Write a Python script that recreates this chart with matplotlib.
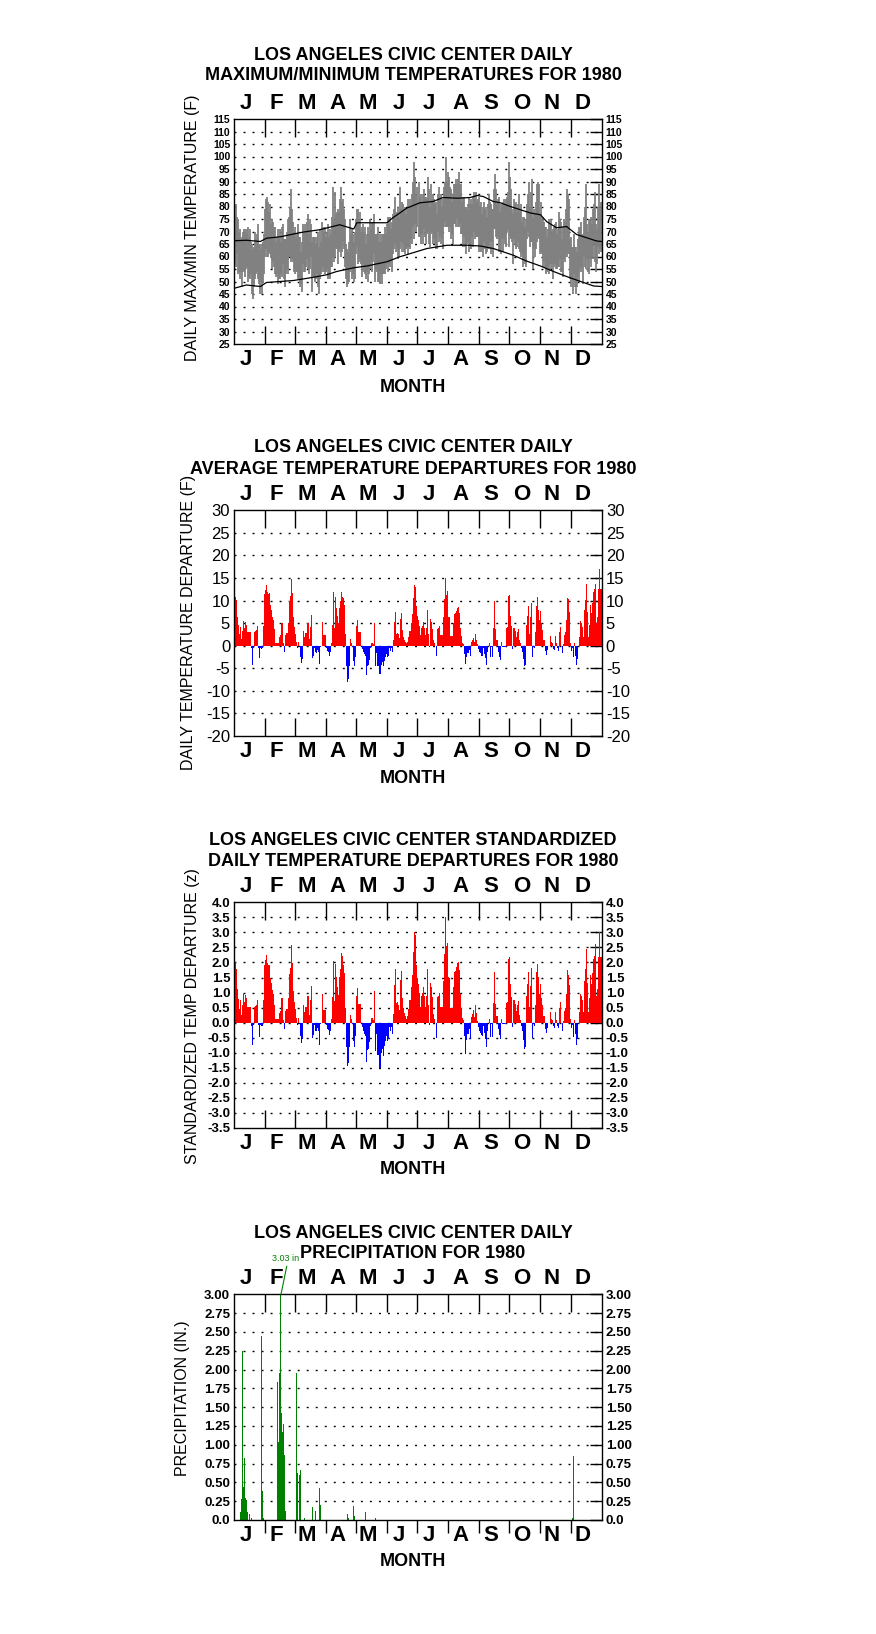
import numpy as np
import matplotlib
matplotlib.use("Agg")
import matplotlib.pyplot as plt

plt.rcParams['font.family'] = ['Liberation Sans', 'DejaVu Sans']

months = ['J', 'F', 'M', 'A', 'M', 'J', 'J', 'A', 'S', 'O', 'N', 'D']
month_len = [31, 29, 31, 30, 31, 30, 31, 31, 30, 31, 30, 31]

# daily max / min temperatures (F), 1980
tmax = [77, 81, 76, 75, 70, 71, 67, 68, 70, 71, 71, 69, 71, 72, 68, 71, 66, 65, 63, 64,
        70, 67, 69, 73, 65, 65, 63, 65, 66, 69, 79, 83, 84, 82, 78, 81, 73, 75, 74, 72,
        72, 66, 68, 71, 67, 71, 66, 72, 73, 67, 67, 67, 70, 75, 76, 80, 87, 79, 74, 70,
        72, 68, 69, 73, 68, 68, 62, 66, 73, 70, 73, 70, 74, 77, 69, 75, 73, 66, 68, 68,
        68, 65, 68, 70, 64, 71, 66, 74, 72, 70, 72, 68, 70, 73, 68, 71, 69, 76, 88, 74,
        86, 77, 78, 79, 78, 83, 88, 82, 83, 79, 75, 65, 63, 62, 66, 75, 69, 71, 69, 66,
        70, 75, 79, 79, 75, 78, 70, 72, 73, 70, 72, 65, 69, 72, 69, 75, 71, 74, 74, 77,
        69, 69, 69, 72, 66, 69, 66, 69, 69, 69, 72, 69, 73, 76, 73, 76, 71, 74, 77, 79,
        84, 76, 78, 80, 76, 88, 79, 82, 81, 78, 80, 77, 79, 83, 80, 83, 80, 85, 90, 98,
        92, 85, 88, 90, 84, 85, 82, 85, 87, 84, 84, 83, 92, 87, 80, 89, 83, 85, 83, 81,
        82, 77, 85, 88, 84, 85, 80, 83, 88, 90, 100, 90, 94, 92, 88, 87, 82, 85, 89, 89,
        91, 89, 91, 94, 89, 89, 82, 84, 84, 80, 80, 79, 81, 84, 81, 83, 81, 84, 86, 83,
        86, 82, 83, 84, 80, 82, 77, 80, 82, 79, 80, 76, 81, 85, 82, 81, 79, 79, 87, 93,
        87, 81, 83, 84, 78, 81, 80, 82, 83, 81, 83, 84, 86, 98, 92, 87, 79, 77, 83, 81,
        82, 78, 81, 85, 78, 81, 74, 76, 76, 72, 75, 81, 85, 90, 80, 86, 91, 75, 79, 77,
        82, 89, 90, 89, 77, 82, 74, 76, 74, 72, 72, 68, 71, 75, 73, 75, 70, 71, 72, 73,
        74, 69, 71, 78, 75, 74, 67, 72, 75, 74, 79, 87, 85, 83, 67, 68, 64, 64, 69, 64,
        64, 62, 67, 72, 72, 74, 68, 69, 76, 80, 89, 73, 69, 75, 75, 76, 73, 79, 81, 86,
        73, 71, 80, 89, 79, 82]
tmin = [58, 56, 61, 53, 54, 51, 54, 48, 54, 55, 52, 55, 56, 50, 52, 51, 53, 45, 43, 48,
        51, 53, 54, 51, 49, 45, 50, 45, 50, 53, 60, 63, 60, 60, 62, 61, 60, 55, 58, 56,
        53, 52, 53, 49, 51, 51, 53, 52, 57, 51, 48, 53, 55, 53, 60, 60, 58, 59, 58, 54,
        53, 54, 54, 51, 52, 48, 49, 46, 57, 54, 54, 56, 59, 55, 53, 55, 60, 46, 52, 52,
        50, 51, 53, 48, 45, 51, 53, 54, 56, 54, 53, 54, 55, 51, 52, 51, 56, 56, 60, 58,
        60, 63, 63, 57, 62, 63, 60, 62, 66, 63, 56, 51, 48, 49, 50, 54, 56, 51, 53, 50,
        51, 61, 64, 57, 59, 58, 57, 52, 57, 54, 53, 51, 54, 50, 53, 55, 58, 54, 58, 61,
        50, 55, 54, 50, 50, 49, 53, 49, 53, 53, 53, 55, 58, 54, 57, 56, 58, 54, 61, 63,
        65, 62, 63, 59, 60, 63, 66, 62, 65, 62, 61, 63, 64, 61, 64, 63, 67, 65, 72, 67,
        73, 70, 72, 68, 68, 65, 69, 65, 71, 68, 65, 69, 70, 65, 64, 69, 70, 65, 67, 65,
        63, 63, 70, 66, 68, 65, 67, 63, 72, 74, 72, 72, 72, 70, 72, 67, 69, 65, 73, 73,
        72, 75, 72, 72, 73, 69, 69, 64, 68, 64, 61, 65, 66, 62, 65, 63, 68, 64, 70, 67,
        68, 68, 68, 62, 64, 62, 64, 60, 66, 63, 61, 62, 65, 63, 66, 61, 66, 60, 71, 71,
        68, 67, 68, 62, 62, 61, 67, 62, 67, 65, 64, 70, 71, 64, 68, 67, 66, 57, 67, 65,
        63, 64, 66, 63, 62, 60, 61, 56, 60, 57, 56, 67, 70, 68, 64, 66, 66, 55, 63, 60,
        63, 66, 68, 67, 61, 62, 61, 56, 58, 56, 53, 54, 56, 53, 57, 55, 57, 51, 56, 57,
        55, 55, 56, 56, 59, 54, 54, 52, 59, 58, 60, 60, 61, 61, 51, 48, 51, 45, 53, 48,
        45, 48, 52, 50, 56, 54, 55, 49, 60, 56, 55, 59, 54, 53, 59, 56, 60, 59, 65, 58,
        54, 57, 64, 61, 63, 62]

# normal max / min curves (F), read at these days of year
norm_max_day = [0, 12, 26, 32, 46, 59, 69, 85, 105, 119, 122, 132, 152, 158, 172, 185,
                198, 208, 222, 235, 242, 248, 258, 265, 275, 285, 295, 305, 311, 321,
                331, 341, 351, 361, 366]
norm_max = [66.3, 66.5, 66.0, 67.3, 67.9, 69.0, 69.8, 70.7, 72.7, 71.0, 73.5, 73.5,
            73.5, 75.5, 79.4, 81.5, 82.0, 83.6, 83.3, 83.6, 84.4, 84.0, 82.0, 81.5,
            80.0, 78.7, 77.4, 76.7, 74.0, 71.5, 72.0, 68.8, 67.5, 66.2, 66.0]
norm_min_day = [0, 12, 26, 32, 59, 79, 92, 102, 119, 132, 152, 165, 178, 192, 212, 232,
                245, 258, 278, 291, 305, 318, 331, 345, 358, 366]
norm_min = [47.3, 48.6, 48.0, 49.6, 50.4, 51.7, 52.7, 54.0, 55.5, 56.2, 57.9, 59.9,
            61.5, 63.2, 64.5, 64.5, 64.2, 63.2, 60.5, 58.2, 56.2, 54.0, 52.0, 50.0,
            48.2, 48.0]

# daily average temperature departure (F)
dep = [9.5, 10.8, 10.2, 6.3, 4.5, 2.5, 4.2, 1.5, 3.3, 5.5,
       4.0, 5.2, 4.6, 3.0, 3.0, 3.0, 3.0, -0.6, -4.2, -0.5,
       3.0, 3.2, 3.4, 4.4, -0.4, -2.7, -0.5, -0.7, -0.6, 4.4,
       11.5, 12.4, 13.5, 11.8, 11.5, 11.6, 9.0, 8.0, 6.4, 5.7,
       3.6, 0.7, 0.7, 0.7, 0.7, 2.0, 2.3, 5.0, 5.0, 0.5,
       -1.3, 2.3, 2.8, 5.0, 9.8, 11.0, 14.7, 11.6, 6.3, 4.2,
       2.5, 0.8, -0.4, 0.8, -0.3, -2.5, -3.8, -3.0, 3.3, 2.0,
       2.9, 2.9, 5.0, 5.0, 1.4, 4.2, 6.8, -2.8, -2.3, -0.4,
       -1.5, -1.6, -1.0, -1.5, -4.1, -0.3, 0.0, 5.3, 2.4, 2.4,
       2.4, -0.5, -1.2, -1.4, -2.2, -1.5, 0.7, 4.6, 12.0, 4.0,
       10.7, 8.3, 6.6, 5.0, 8.3, 9.8, 12.0, 10.7, 10.5, 9.0,
       2.7, -4.4, -8.1, -7.3, -4.5, 1.5, 0.6, -0.3, -3.4, -4.5,
       -2.5, 4.4, 5.7, 3.0, 3.0, 3.0, 0.0, -0.7, -1.4, -1.8,
       -2.2, -6.4, -4.5, -4.3, -3.2, -0.5, 0.7, 0.7, 0.4, 5.1,
       -4.6, -1.6, -4.5, -4.5, -6.3, -6.3, -4.3, -3.7, -4.6, -3.3,
       -2.5, -1.8, -2.5, -2.3, -0.6, -1.2, -0.6, -1.5, 1.2, 5.3,
       7.5, 2.7, 2.9, 2.5, 1.8, 6.0, 7.2, 3.5, 2.0, 1.3,
       0.9, 0.5, 0.9, 2.0, 3.3, 3.3, 5.1, 7.0, 10.5, 13.5,
       13.1, 8.7, 6.6, 5.7, 4.4, 2.4, 4.0, 4.4, 5.3, 4.0,
       2.4, 4.0, 8.0, 2.7, -0.3, 6.0, 5.3, 3.8, 1.3, 0.6,
       0.0, -2.3, 3.8, 4.0, 4.4, 2.4, 2.4, 2.4, 6.3, 10.3,
       15.0, 11.3, 12.2, 6.4, 6.3, 2.1, 2.1, 2.1, 5.0, 7.0,
       7.2, 7.8, 8.3, 8.5, 7.3, 4.0, 2.1, 0.7, 0.4, -1.8,
       -4.0, -2.4, -1.6, -1.6, -0.9, -2.3, 0.8, 1.2, 1.8, 0.8,
       2.5, 1.3, 0.3, -0.8, -1.5, -1.7, -2.2, -2.3, -0.5, -1.8,
       -2.8, -4.2, -1.5, 0.0, 0.7, -2.5, -0.3, -2.5, 4.0, 10.0,
       3.8, 1.3, 1.3, -1.3, -2.5, -3.2, 0.8, -0.2, -0.2, -0.2,
       0.0, 4.0, 4.2, 11.0, 11.3, 6.6, 4.4, -0.7, 4.0, 4.0,
       3.3, 2.0, 3.1, 3.8, 1.3, 0.5, -0.6, -1.5, -3.0, -4.5,
       -4.2, 4.6, 6.6, 8.8, 2.7, 6.3, 9.4, -2.6, -0.3, -0.5,
       3.1, 8.8, 10.9, 7.9, 5.7, 7.8, 5.0, 3.5, 1.3, 1.3,
       -1.2, -2.0, -1.0, 0.0, 2.2, 0.8, 0.5, -0.7, -1.0, 2.1,
       0.5, -0.6, -1.1, 3.0, 4.2, 0.0, -1.7, 0.3, 2.3, 3.0,
       5.7, 10.5, 10.3, 7.5, 0.6, -1.1, -0.5, -2.6, 0.5, -2.2,
       -4.2, -3.0, 0.0, 2.0, 5.5, 5.0, 4.2, 2.0, 7.9, 10.1,
       13.7, 7.5, 2.0, 4.6, 9.0, 7.3, 9.4, 12.0, 12.6, 13.7,
       5.1, 6.4, 12.5, 17.0, 12.5, 12.5]

# standardized daily departure (z)
zdep = [1.67, 2.00, 1.79, 1.11, 0.79, 0.44, 0.74, 0.26, 0.58, 0.96,
        0.70, 0.91, 0.81, 0.53, 0.53, 0.53, 0.53, -0.11, -0.74, -0.09,
        0.53, 0.56, 0.60, 0.77, -0.07, -0.47, -0.09, -0.12, -0.11, 0.77,
        1.90, 2.07, 2.25, 1.97, 1.92, 1.93, 1.50, 1.33, 1.07, 0.95,
        0.60, 0.12, 0.12, 0.12, 0.12, 0.33, 0.38, 0.83, 0.83, 0.08,
        -0.22, 0.38, 0.47, 0.83, 1.63, 1.83, 2.58, 1.98, 1.05, 0.70,
        0.45, 0.14, -0.07, 0.14, -0.05, -0.45, -0.68, -0.54, 0.59, 0.36,
        0.52, 0.52, 0.89, 0.89, 0.25, 0.75, 1.21, -0.50, -0.41, -0.07,
        -0.27, -0.29, -0.18, -0.27, -0.73, -0.05, 0.00, 0.95, 0.43, 0.43,
        0.43, -0.09, -0.22, -0.25, -0.40, -0.27, 0.13, 0.84, 2.05, 0.73,
        1.95, 1.51, 1.20, 0.91, 1.51, 1.78, 2.30, 2.20, 1.91, 1.64,
        0.49, -0.80, -1.45, -1.33, -0.82, 0.27, 0.11, -0.05, -0.62, -0.82,
        -0.45, 0.90, 1.16, 0.61, 0.61, 0.61, 0.00, -0.14, -0.29, -0.37,
        -0.45, -1.31, -0.92, -0.88, -0.65, -0.10, 0.14, 0.14, 0.08, 1.04,
        -0.94, -0.38, -1.07, -1.07, -1.50, -1.50, -1.02, -0.88, -1.10, -0.79,
        -0.60, -0.43, -0.60, -0.55, -0.14, -0.29, -0.14, -0.36, 0.29, 1.26,
        1.79, 0.64, 0.69, 0.60, 0.43, 1.43, 1.71, 0.83, 0.48, 0.31,
        0.21, 0.12, 0.21, 0.46, 0.76, 0.76, 1.17, 1.59, 2.35, 3.00,
        2.90, 1.93, 1.47, 1.27, 0.98, 0.53, 0.89, 0.98, 1.18, 0.89,
        0.53, 0.89, 1.78, 0.60, -0.07, 1.33, 1.18, 0.84, 0.29, 0.13,
        0.00, -0.51, 0.84, 0.89, 0.98, 0.53, 0.53, 0.53, 1.40, 2.29,
        3.50, 2.55, 2.65, 1.52, 1.50, 0.50, 0.50, 0.50, 1.19, 1.67,
        1.71, 1.86, 1.98, 2.02, 1.74, 0.95, 0.50, 0.17, 0.10, -0.43,
        -1.05, -0.57, -0.38, -0.38, -0.21, -0.55, 0.19, 0.29, 0.43, 0.19,
        0.60, 0.31, 0.07, -0.15, -0.29, -0.33, -0.42, -0.44, -0.10, -0.35,
        -0.54, -0.81, -0.29, 0.00, 0.13, -0.48, -0.06, -0.48, 0.67, 1.67,
        0.63, 0.22, 0.22, -0.22, -0.42, -0.53, 0.13, -0.03, -0.03, -0.03,
        0.00, 0.67, 0.70, 2.12, 2.17, 1.27, 0.85, -0.13, 0.77, 0.77,
        0.63, 0.38, 0.60, 0.73, 0.25, 0.10, -0.12, -0.29, -0.58, -0.87,
        -0.81, 0.88, 1.27, 1.69, 0.52, 1.21, 1.81, -0.50, -0.06, -0.10,
        0.60, 1.69, 1.95, 1.52, 0.95, 1.30, 0.83, 0.58, 0.22, 0.22,
        -0.20, -0.33, -0.17, 0.00, 0.37, 0.13, 0.08, -0.12, -0.17, 0.35,
        0.08, -0.10, -0.18, 0.50, 0.70, 0.00, -0.28, 0.05, 0.38, 0.50,
        0.95, 1.75, 1.60, 1.25, 0.11, -0.19, -0.09, -0.46, 0.09, -0.39,
        -0.74, -0.53, 0.00, 0.35, 0.96, 0.88, 0.74, 0.35, 1.39, 1.77,
        2.45, 1.32, 0.35, 0.81, 1.58, 1.28, 1.65, 2.11, 2.21, 2.60,
        0.89, 1.12, 2.19, 3.00, 2.19, 2.19]

# daily precipitation (in.), only days with rain
precip_day = [6, 7, 8, 9, 10, 11, 12, 13, 15, 17, 27, 28, 29, 43, 44, 45, 46, 47, 48,
              49, 50, 51, 61, 62, 64, 65, 69, 77, 80, 84, 85, 112, 113, 118, 119, 130,
              140, 336, 337]
precip_in = [0.10, 0.28, 2.25, 0.44, 0.83, 0.29, 0.26, 0.10, 0.08, 0.03, 2.44, 0.38,
             0.02, 1.83, 1.04, 1.95, 3.03, 1.42, 1.17, 1.28, 0.87, 0.12, 1.96, 0.62,
             0.60, 0.67, 0.03, 0.17, 0.12, 0.42, 0.20, 0.08, 0.02, 0.18, 0.05, 0.11,
             0.03, 0.02, 0.85]

W, H = 876, 1634
fig = plt.figure(figsize=(W / 100, H / 100), dpi=100)

bounds = np.cumsum([0] + month_len)
mids = (bounds[:-1] + bounds[1:]) / 2 - 3.5   # letters sit a bit left of centre
days = np.arange(366) + 0.5
DOT = (0, (1.4, 5.1))


def panel(top, bottom, ylo, yhi, step, grid, labels, lsize, lweight, out_bottom=False):
    ax = fig.add_axes([234.3 / W, 1 - bottom / H, 367.4 / W, (bottom - top) / H])
    ax.set_xlim(0, 366)
    ax.set_ylim(ylo, yhi)
    for s in ax.spines.values():
        s.set_linewidth(1.0)
    for g in grid:
        ax.axhline(g, color='black', lw=1.0, linestyle=DOT, zorder=0)

    ticks = np.round(np.arange(ylo, yhi + step / 2, step), 2)
    ax.tick_params(axis='y', left=False, right=True, labelleft=True, labelright=True,
                   direction='in', length=9, width=1.0, labelsize=lsize, pad=3)
    ax.set_yticks(ticks, labels, fontweight=lweight)

    ax.set_xticks(bounds[1:-1], [''] * 11)
    ax.set_xticks(mids, months, minor=True, fontweight='bold')
    if out_bottom:
        ax.tick_params(axis='x', which='major', bottom=False, top=True,
                       direction='in', length=13, width=1.0)
        ax.vlines(bounds[1:-1], -13 / (bottom - top), 0, transform=ax.get_xaxis_transform(),
                  colors='black', lw=1.0, clip_on=False)
    else:
        ax.tick_params(axis='x', which='major', bottom=True, top=True,
                       direction='in', length=13, width=1.0)
    ax.tick_params(axis='x', which='minor', length=0, bottom=True, top=True,
                   labelbottom=True, labeltop=True, labelsize=16, pad=3.5)
    return ax


def title(y1, line1, line2):
    fig.text(413 / W, 1 - y1 / H, line1, ha='center', va='center',
             fontsize=13, fontweight='bold')
    fig.text(413 / W, 1 - (y1 + 21) / H, line2, ha='center', va='center',
             fontsize=13, fontweight='bold')


def ylabel(x, y, text):
    fig.text(x / W, 1 - y / H, text, rotation=90, ha='center', va='center', fontsize=11.5)


def month_label(y):
    fig.text(413 / W, 1 - y / H, 'MONTH', ha='center', va='center',
             fontsize=13, fontweight='bold')


# panel 1: daily max / min
lab1 = [str(v) for v in range(25, 120, 5)]
ax1 = panel(119, 344, 25, 115, 5, range(30, 115, 5), lab1, 7.5, 'bold')
ax1.vlines(days, tmin, tmax, colors='#808080', lw=1.3, zorder=2)
ax1.plot(np.array(norm_max_day), norm_max, color='black', lw=0.9, zorder=3)
ax1.plot(np.array(norm_min_day), norm_min, color='black', lw=0.9, zorder=3)
title(55, 'LOS ANGELES CIVIC CENTER DAILY', 'MAXIMUM/MINIMUM TEMPERATURES FOR 1980')
ylabel(192, 228, 'DAILY MAX/MIN TEMPERATURE (F)')
month_label(387)

# panel 2: departures
dep_a = np.array(dep)
lab2 = [str(v) for v in range(-20, 35, 5)]
ax2 = panel(510.3, 736, -20, 30, 5, range(-15, 30, 5), lab2, 12, 'normal')
ax2.bar(days, dep_a, width=1.0, color=np.where(dep_a >= 0, 'red', 'blue'),
        linewidth=0, zorder=2)
title(448, 'LOS ANGELES CIVIC CENTER DAILY', 'AVERAGE TEMPERATURE DEPARTURES FOR 1980')
ylabel(188, 622, 'DAILY TEMPERATURE DEPARTURE (F)')
month_label(778)

# panel 3: standardized departures
z_a = np.array(zdep)
lab3 = ['%.1f' % v for v in np.arange(-3.5, 4.01, 0.5)]
ax3 = panel(902.3, 1128, -3.5, 4.0, 0.5, np.arange(-3.0, 3.51, 0.5), lab3, 9.5, 'bold')
ax3.bar(days, z_a, width=1.0, color=np.where(z_a >= 0, 'red', 'blue'),
        linewidth=0, zorder=2)
title(841, 'LOS ANGELES CIVIC CENTER STANDARDIZED', 'DAILY TEMPERATURE DEPARTURES FOR 1980')
ylabel(192, 1016, 'STANDARDIZED TEMP DEPARTURE (z)')
month_label(1170)

# panel 4: precipitation
lab4 = ['0.0'] + ['%.2f' % v for v in np.arange(0.25, 3.01, 0.25)]
ax4 = panel(1294.3, 1520, 0, 3.0, 0.25, np.arange(0.25, 2.76, 0.25), lab4, 9.5, 'bold',
            out_bottom=True)
pday = np.array(precip_day) + 0.5
ax4.bar(pday, precip_in, width=1.0, color='green', linewidth=0, zorder=2)
imax = int(np.argmax(precip_in))
ax4.annotate('%.2f in' % precip_in[imax], xy=(pday[imax], 3.0), xytext=(51.5, 3.47),
             ha='center', va='center', fontsize=6.5, color='green', annotation_clip=False,
             arrowprops=dict(arrowstyle='-', color='green', lw=0.8, shrinkA=0, shrinkB=0,
                             relpos=(0.55, 0.0)))
title(1233, 'LOS ANGELES CIVIC CENTER DAILY', 'PRECIPITATION FOR 1980')
ylabel(183, 1398, 'PRECIPITATION (IN.)')
month_label(1562)

fig.savefig('out.png', dpi=100)
